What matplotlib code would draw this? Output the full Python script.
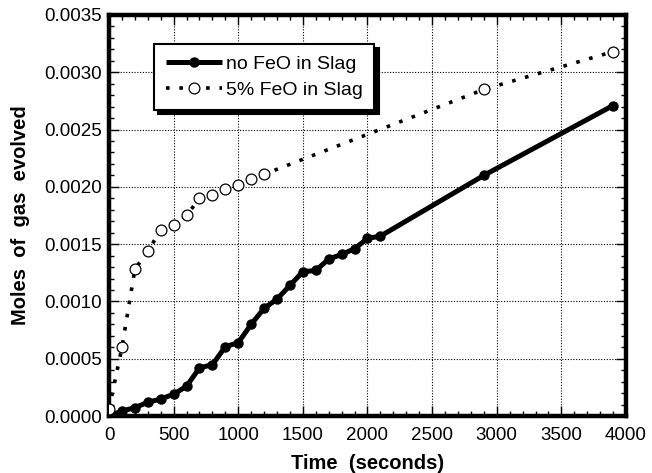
import numpy as np
import matplotlib
matplotlib.use('Agg')
import matplotlib.pyplot as plt
from matplotlib.ticker import MultipleLocator, FormatStrFormatter

plt.rcParams['font.family'] = ['Liberation Sans', 'DejaVu Sans']

# gas evolution, slag without FeO
time_no_feo = [0, 100, 200, 300, 400, 500, 600, 700, 800, 900, 1000, 1100,
               1200, 1300, 1400, 1500, 1600, 1700, 1800, 1900, 2000, 2100,
               2900, 3900]
moles_no_feo = [0.0, 0.000044, 0.000072, 0.00012, 0.000148, 0.00019, 0.00026,
                0.00042, 0.000448, 0.000605, 0.00064, 0.0008, 0.00094,
                0.00102, 0.00114, 0.00126, 0.00127, 0.00137, 0.00141,
                0.00146, 0.00155, 0.00157, 0.00210, 0.00271]

# gas evolution, slag with 5% FeO
time_feo = [0, 100, 200, 300, 400, 500, 600, 700, 800, 900, 1000, 1100, 1200,
            2900, 3900]
moles_feo = [0.00006, 0.0006, 0.00128, 0.00144, 0.00162, 0.00167, 0.00175,
             0.0019, 0.00193, 0.00198, 0.00202, 0.00207, 0.00211, 0.00285,
             0.00318]

fig = plt.figure(figsize=(6.52, 4.73), dpi=100)
ax = fig.add_axes([0.1672, 0.1205, 0.7929, 0.8478])

ax.plot(time_no_feo, moles_no_feo, color='k', lw=3.6, marker='o', ms=6.5,
        mfc='k', mec='k', label='no FeO in Slag', zorder=3,
        solid_capstyle='butt')
ax.plot(time_feo, moles_feo, color='k', lw=2.6, ls=(0, (1, 2.7)),
        dash_capstyle='butt', marker='o', ms=7.8, mfc='white', mec='k',
        mew=0.9, label='5% FeO in Slag', zorder=4)

ax.set_xlim(0, 4000)
ax.set_ylim(0, 0.0035)
ax.xaxis.set_major_locator(MultipleLocator(500))
ax.xaxis.set_minor_locator(MultipleLocator(100))
ax.yaxis.set_major_locator(MultipleLocator(0.0005))
ax.yaxis.set_minor_locator(MultipleLocator(0.0001))
ax.yaxis.set_major_formatter(FormatStrFormatter('%.4f'))

ax.tick_params(which='both', direction='in', top=True, right=True,
               labelsize=13.5, width=1, colors='k')
ax.tick_params(which='major', length=7)
ax.tick_params(which='minor', length=3.5)
ax.tick_params(axis='x', which='major', pad=8)
ax.tick_params(axis='y', which='major', pad=5)
for s in ax.spines.values():
    s.set_linewidth(3.2)

ax.grid(True, which='major', color='k', lw=0.8, ls=(0, (1, 1.5)))
ax.set_axisbelow(True)

ax.set_xlabel('Time  (seconds)', fontsize=14.5, fontweight='bold', labelpad=7)
ax.set_ylabel('Moles  of  gas  evolved', fontsize=14.5, fontweight='bold',
              labelpad=10)

leg = ax.legend(loc='upper left', bbox_to_anchor=(0.087, 0.928),
                borderaxespad=0, fontsize=14, handlelength=2.9,
                handletextpad=0.2, borderpad=0.6, labelspacing=0.4,
                fancybox=False, framealpha=1, edgecolor='k',
                shadow={'color': 'k', 'alpha': 1, 'ox': 3, 'oy': -3})
leg.get_frame().set_linewidth(1.5)

fig.savefig('out.png', dpi=100)
